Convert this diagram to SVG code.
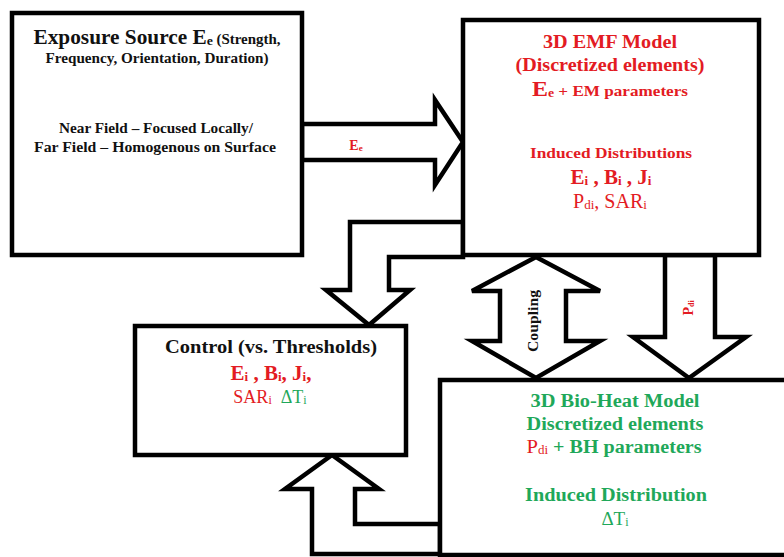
<svg xmlns="http://www.w3.org/2000/svg" width="784" height="557" viewBox="0 0 784 557">
<style>
.box{fill:#fff;stroke:#000;stroke-width:4.5}
.arr{fill:#fff;stroke:#000;stroke-width:4.5;stroke-linejoin:miter}
text{font-family:'Liberation Serif','Times New Roman',serif;text-anchor:middle}
.b{font-weight:bold}
.r{fill:#e31b23}
.g{fill:#1fa85a}
.k{fill:#111}
</style>
<rect width="784" height="557" fill="#fff"/>
<g id="connectors">
<polygon class="arr" points="302,124 435,124 435,100 463,142 435,185 435,160 302,160"/>
<polygon class="arr" points="463,222 350,222 350,290 326,290 369,325 410,290 389,290 389,257 463,257"/>
<polygon class="arr" points="440,554 312,554 312,489 285,489 332,455 379,489 355,489 355,524 440,524"/>
<polygon class="arr" points="500,291 472,291 536,257 600,291 566,291 566,341 600,341 536,378 472,341 500,341"/>
<polygon class="arr" points="665,255 665,337 633,337 689,378 746,337 715,337 715,255"/>
<text class="b r" x="356" y="150" font-size="14">E<tspan font-size="9" dy="1">e</tspan></text>
<text class="b k" transform="translate(538,321) rotate(-90)" font-size="14.5" textLength="62" lengthAdjust="spacingAndGlyphs">Coupling</text>
<text class="b r" transform="translate(693,308) rotate(-90)" font-size="14">P<tspan font-size="8" dy="1">di</tspan></text>
</g>
<g id="exposure">
<rect class="box" x="12" y="13" width="290" height="242"/>
<text class="b k" x="157" y="44" textLength="247" lengthAdjust="spacingAndGlyphs"><tspan font-size="20">Exposure Source E</tspan><tspan font-size="13" dy="1">e</tspan><tspan font-size="14" dy="-1"> (Strength,</tspan></text>
<text class="b k" x="157" y="63" font-size="14.5" textLength="223" lengthAdjust="spacingAndGlyphs">Frequency, Orientation, Duration)</text>
<text class="b k" x="156" y="133" font-size="14" textLength="194" lengthAdjust="spacingAndGlyphs">Near Field – Focused Locally/</text>
<text class="b k" x="155" y="152" font-size="14" textLength="242" lengthAdjust="spacingAndGlyphs">Far Field – Homogenous on Surface</text>
</g>
<g id="emf">
<rect class="box" x="463" y="20" width="296" height="235"/>
<text class="b r" x="610" y="48" font-size="18" textLength="134" lengthAdjust="spacingAndGlyphs">3D EMF Model</text>
<text class="b r" x="610" y="71" font-size="18" textLength="189" lengthAdjust="spacingAndGlyphs">(Discretized elements)</text>
<text class="b r" x="610" y="96" textLength="156" lengthAdjust="spacingAndGlyphs"><tspan font-size="21">E</tspan><tspan font-size="12" dy="1">e</tspan><tspan font-size="15" dy="-1"> + EM parameters</tspan></text>
<text class="b r" x="611" y="158" font-size="15.5" textLength="162" lengthAdjust="spacingAndGlyphs">Induced Distributions</text>
<text class="b r" x="611" y="184"><tspan font-size="21">E</tspan><tspan font-size="13" dy="1">i</tspan><tspan font-size="21" dy="-1"> , B</tspan><tspan font-size="13" dy="1">i</tspan><tspan font-size="21" dy="-1"> , J</tspan><tspan font-size="13" dy="1">i</tspan></text>
<text class="r" x="610" y="208"><tspan font-size="20">P</tspan><tspan font-size="13" dy="1">di</tspan><tspan font-size="20" dy="-1">, SAR</tspan><tspan font-size="13" dy="1">i</tspan></text>
</g>
<g id="control">
<rect class="box" x="135" y="326" width="271" height="129"/>
<text class="b k" x="271" y="353" font-size="19" textLength="212" lengthAdjust="spacingAndGlyphs">Control (vs. Thresholds)</text>
<text class="b r" x="271" y="380"><tspan font-size="21">E</tspan><tspan font-size="13" dy="1">i</tspan><tspan font-size="21" dy="-1"> , B</tspan><tspan font-size="13" dy="1">i</tspan><tspan font-size="21" dy="-1">, J</tspan><tspan font-size="13" dy="1">i</tspan><tspan font-size="21" dy="-1">,</tspan></text>
<text x="270" y="403"><tspan class="r" font-size="18">SAR</tspan><tspan class="r" font-size="12" dy="1">i</tspan><tspan class="g" font-size="18" dy="-1" dx="9">ΔT</tspan><tspan class="g" font-size="12" dy="1">i</tspan></text>
</g>
<g id="bioheat">
<rect class="box" x="440" y="380" width="360" height="175"/>
<text class="b g" x="615" y="407" font-size="18.5" textLength="169" lengthAdjust="spacingAndGlyphs">3D Bio-Heat Model</text>
<text class="b g" x="615" y="430" font-size="18.5" textLength="177" lengthAdjust="spacingAndGlyphs">Discretized elements</text>
<text x="614" y="453" textLength="175" lengthAdjust="spacingAndGlyphs"><tspan class="r" font-size="19">P</tspan><tspan class="r" font-size="12" dy="1">di</tspan><tspan class="b g" font-size="18.5" dy="-1"> + BH parameters</tspan></text>
<text class="b g" x="616" y="501" font-size="18.5" textLength="182" lengthAdjust="spacingAndGlyphs">Induced Distribution</text>
<text class="g" x="615" y="525"><tspan font-size="19">ΔT</tspan><tspan font-size="12" dy="1">i</tspan></text>
</g>
</svg>
